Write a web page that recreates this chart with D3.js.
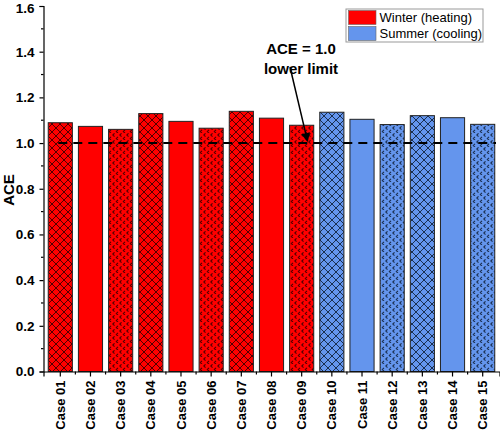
<!DOCTYPE html>
<html><head><meta charset="utf-8">
<script src="https://cdn.jsdelivr.net/npm/d3@7"></script>
<style>body{margin:0;background:#fff}svg{display:block}text{font-family:"Liberation Sans",Arial,sans-serif}</style>
</head><body><svg id="c" width="500" height="430"></svg>
<script>
const categories = ["Case 01","Case 02","Case 03","Case 04","Case 05","Case 06","Case 07","Case 08","Case 09","Case 10","Case 11","Case 12","Case 13","Case 14","Case 15"];
const values = [1.089,1.073,1.060,1.129,1.095,1.065,1.139,1.109,1.078,1.135,1.104,1.081,1.120,1.111,1.082];
const seasons = ["Winter","Winter","Winter","Winter","Winter","Winter","Winter","Winter","Winter","Summer","Summer","Summer","Summer","Summer","Summer"];
const patterns = ["cross","solid","dots","cross","solid","dots","cross","solid","dots","cross","solid","dots","cross","solid","dots"];
const legendLabels = ["Winter (heating)","Summer (cooling)"];
const yTicks = [0.0,0.2,0.4,0.6,0.8,1.0,1.2,1.4,1.6];
const limitValue = 1.0;

const colors = {Winter:"#ff0000", Summer:"#6495ed"};
const svg = d3.select("#c");
const x = d3.scaleBand().domain(categories).range([43.5,499.5]).paddingInner(0.2).paddingOuter(0.157);
const y = d3.scaleLinear().domain([0,1.6]).range([371.5,6]);

const defs = svg.append("defs");
function makePatterns(season){
  const col = colors[season];
  const dark = season==="Winter" ? "#500000" : "#1a2f50";
  const pc = defs.append("pattern").attr("id","cross-"+season).attr("patternUnits","userSpaceOnUse").attr("width",8).attr("height",8);
  pc.append("rect").attr("width",8).attr("height",8).attr("fill",col);
  pc.append("line").attr("x1",-1).attr("y1",-1).attr("x2",9).attr("y2",9).attr("stroke",dark).attr("stroke-width",1);
  pc.append("line").attr("x1",9).attr("y1",-1).attr("x2",-1).attr("y2",9).attr("stroke",dark).attr("stroke-width",1);
  const pd = defs.append("pattern").attr("id","dots-"+season).attr("patternUnits","userSpaceOnUse").attr("width",7).attr("height",7);
  pd.append("rect").attr("width",7).attr("height",7).attr("fill",col);
  pd.append("path").attr("d","M2.5,0.3L0.8,2L2.5,3.7").attr("stroke",dark).attr("stroke-width",1.1).attr("fill","none");
  pd.append("path").attr("d","M6,3.8L4.3,5.5L6,7.2").attr("stroke",dark).attr("stroke-width",1.1).attr("fill","none");
}
makePatterns("Winter"); makePatterns("Summer");

// bars
svg.append("g").selectAll("rect").data(categories).join("rect")
  .attr("x",d=>x(d)).attr("width",x.bandwidth())
  .attr("y",(d,i)=>y(values[i])).attr("height",(d,i)=>y(0)-y(values[i]))
  .attr("fill",(d,i)=>patterns[i]==="solid"?colors[seasons[i]]:`url(#${patterns[i]}-${seasons[i]})`)
  .attr("stroke","#222").attr("stroke-width",1);

// dashed limit line
svg.append("line").attr("x1",x(categories[0])+x.bandwidth()/2-2).attr("x2",496)
  .attr("y1",y(limitValue)).attr("y2",y(limitValue))
  .attr("stroke","#000").attr("stroke-width",2).attr("stroke-dasharray","9,6");

// y axis
const yAxis = d3.axisLeft(y).tickValues(yTicks).tickFormat(d3.format(".1f")).tickSize(4).tickPadding(5);
const gy = svg.append("g").attr("transform","translate(43.5,0)").call(yAxis);
gy.selectAll("text").attr("font-size",13.5).attr("font-weight","bold").attr("fill","#000");
gy.selectAll(".tick").filter(d=>d===1.6).select("text").attr("dy","0.45em");
gy.select(".domain").attr("stroke","#000").attr("stroke-width",1.2);
gy.selectAll(".tick line").attr("stroke","#000").attr("stroke-width",1.2);
const minor = d3.range(0.1,1.6,0.2);
svg.append("g").selectAll("line").data(minor).join("line")
  .attr("x1",41).attr("x2",43.5).attr("y1",d=>y(d)).attr("y2",d=>y(d)).attr("stroke","#000").attr("stroke-width",1.2);

// x axis
const xAxis = d3.axisBottom(x).tickSize(5).tickPadding(4);
const gx = svg.append("g").attr("transform","translate(0,371.5)").call(xAxis);
gx.select(".domain").attr("stroke","#000").attr("stroke-width",1.2);
gx.selectAll(".tick line").attr("stroke","#000").attr("stroke-width",1.2);
gx.selectAll("text").attr("font-size",13).attr("font-weight","bold").attr("fill","#000")
  .attr("transform","rotate(-90)").attr("text-anchor","end").attr("x",-9).attr("y",0).attr("dy","0.35em");
const bounds = categories.slice(1).map(c=>x(c)-x.step()*x.paddingInner()/2);
svg.append("g").selectAll("line").data(bounds).join("line")
  .attr("x1",d=>d).attr("x2",d=>d).attr("y1",371.5).attr("y2",374.5).attr("stroke","#000").attr("stroke-width",1.2);

// y label
svg.append("text").attr("transform","translate(14,190) rotate(-90)").attr("text-anchor","middle")
  .attr("font-size",15).attr("font-weight","bold").text("ACE");

// annotation
svg.append("text").attr("x",301).attr("y",54).attr("text-anchor","middle").attr("font-size",15).attr("font-weight","bold").text("ACE = " + limitValue.toFixed(1));
svg.append("text").attr("x",301).attr("y",74).attr("text-anchor","middle").attr("font-size",15).attr("font-weight","bold").text("lower limit");
defs.append("marker").attr("id","arr").attr("viewBox","0 0 10 10").attr("refX",9).attr("refY",5)
  .attr("markerWidth",6).attr("markerHeight",6).attr("orient","auto")
  .append("path").attr("d","M0,0L10,5L0,10z").attr("fill","#000");
svg.append("line").attr("x1",290).attr("y1",67).attr("x2",307.5).attr("y2",y(limitValue)-2)
  .attr("stroke","#000").attr("stroke-width",1.5).attr("marker-end","url(#arr)");

// legend
const lg = svg.append("g");
lg.append("rect").attr("x",346).attr("y",9).attr("width",137).attr("height",33).attr("fill","#fff").attr("stroke","#999").attr("stroke-width",1);
legendLabels.forEach((t,i)=>{
  const s = i===0?"Winter":"Summer";
  lg.append("rect").attr("x",348.5).attr("y",10.5+i*16).attr("width",27.5).attr("height",14).attr("fill",colors[s]).attr("stroke","#666").attr("stroke-width",0.6);
  lg.append("text").attr("x",379.5).attr("y",22+i*16).attr("font-size",13).attr("fill","#000").text(t);
});
</script></body></html>
